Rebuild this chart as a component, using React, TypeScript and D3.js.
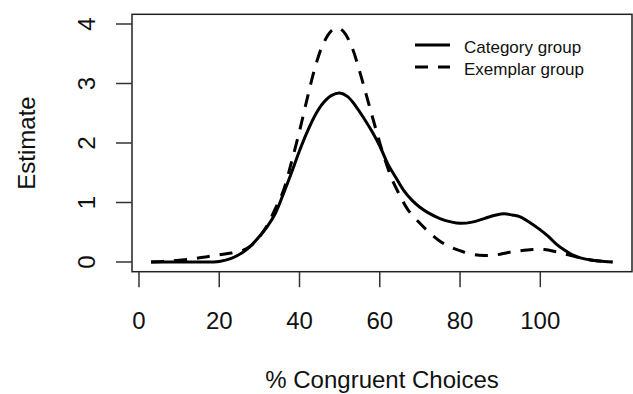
import * as d3 from 'd3'

// values (density estimate of % congruent choices)
const categoryX = [3, 10, 15, 20, 23, 26, 28, 30, 32, 34, 36, 38, 40, 42, 44, 46, 48, 50, 52, 54, 56, 58, 60, 62, 64, 66, 68, 70, 72, 75, 78, 80, 83, 86, 89, 91, 93, 95, 97, 100, 102, 104, 106, 108, 110, 113, 116, 118]
const categoryY = [0, 0, 0, 0.01, 0.06, 0.17, 0.28, 0.43, 0.6, 0.82, 1.15, 1.5, 1.87, 2.2, 2.48, 2.68, 2.8, 2.84, 2.78, 2.62, 2.42, 2.2, 1.95, 1.65, 1.42, 1.2, 1.04, 0.92, 0.83, 0.73, 0.67, 0.65, 0.67, 0.73, 0.79, 0.81, 0.79, 0.76, 0.68, 0.54, 0.43, 0.3, 0.2, 0.12, 0.07, 0.03, 0.01, 0]

const exemplarX = [3, 6, 10, 14, 17, 20, 23, 26, 28, 30, 32, 34, 36, 38, 40, 42, 44, 46, 48, 49.5, 51, 53, 55, 57, 59, 61, 63, 65, 67, 70, 72, 75, 78, 80, 83, 86, 89, 92, 95, 98, 101, 104, 107, 110, 113, 116, 118]
const exemplarY = [0, 0.01, 0.03, 0.06, 0.09, 0.12, 0.15, 0.2, 0.28, 0.42, 0.62, 0.9, 1.2, 1.68, 2.2, 2.77, 3.3, 3.68, 3.89, 3.93, 3.87, 3.62, 3.2, 2.72, 2.24, 1.78, 1.4, 1.12, 0.88, 0.65, 0.52, 0.35, 0.24, 0.19, 0.13, 0.11, 0.12, 0.16, 0.19, 0.21, 0.21, 0.17, 0.12, 0.07, 0.03, 0.01, 0]

const xTicks = [0, 20, 40, 60, 80, 100]
const yTicks = [0, 1, 2, 3, 4]
const legendLabels = ['Category group', 'Exemplar group']

const W = 633
const H = 394
const box = { left: 132, right: 632, top: 14.3, bottom: 271.7 }
const font = '"Liberation Sans", Arial, sans-serif'

export default function App() {
  const x = d3.scaleLinear().domain([-1.74, 122.85]).range([box.left, box.right])
  const y = d3.scaleLinear().domain([-0.163, 4.163]).range([box.bottom, box.top])

  const line = d3.line<[number, number]>()
    .x(d => x(d[0]))
    .y(d => y(d[1]))
    .curve(d3.curveCatmullRom.alpha(0.5))

  const catPts = categoryX.map((v, i) => [v, categoryY[i]] as [number, number])
  const exPts = exemplarX.map((v, i) => [v, exemplarY[i]] as [number, number])
  const dash = '13 10'

  return (
    <svg width={W} height={H} style={{ position: 'absolute', left: 0, top: 0, background: '#fff' }}>
      <rect x={box.left} y={box.top} width={box.right - box.left} height={box.bottom - box.top}
        fill="none" stroke="#222" strokeWidth={1.5} />

      {/* x axis */}
      {xTicks.map(t => (
        <g key={'x' + t}>
          <line x1={x(t)} x2={x(t)} y1={box.bottom} y2={box.bottom + 15.5} stroke="#333" strokeWidth={1.5} />
          <text x={x(t)} y={329} textAnchor="middle" fontFamily={font} fontSize={24} fill="#111">{t}</text>
        </g>
      ))}
      <text x={(box.left + box.right) / 2} y={388} textAnchor="middle" fontFamily={font} fontSize={24} fill="#111">
        % Congruent Choices
      </text>

      {/* y axis */}
      {yTicks.map(t => (
        <g key={'y' + t}>
          <line x1={box.left - 16} x2={box.left} y1={y(t)} y2={y(t)} stroke="#333" strokeWidth={1.5} />
          <text transform={`translate(95,${y(t)}) rotate(-90)`} textAnchor="middle" fontFamily={font} fontSize={24} fill="#111">{t}</text>
        </g>
      ))}
      <text transform={`translate(35,${(box.top + box.bottom) / 2}) rotate(-90)`} textAnchor="middle"
        fontFamily={font} fontSize={24} fill="#111">Estimate</text>

      {/* curves */}
      <path d={line(catPts) ?? ''} fill="none" stroke="#000" strokeWidth={3} />
      <path d={line(exPts) ?? ''} fill="none" stroke="#000" strokeWidth={3} strokeDasharray={dash} />

      {/* legend */}
      {legendLabels.map((lab, i) => (
        <g key={lab}>
          <line x1={415} x2={450} y1={45 + i * 22} y2={45 + i * 22} stroke="#000" strokeWidth={3}
            strokeDasharray={i === 1 ? dash : undefined} />
          <text x={464} y={53 + i * 22} fontFamily={font} fontSize={17} fill="#111">{lab}</text>
        </g>
      ))}
    </svg>
  )
}
